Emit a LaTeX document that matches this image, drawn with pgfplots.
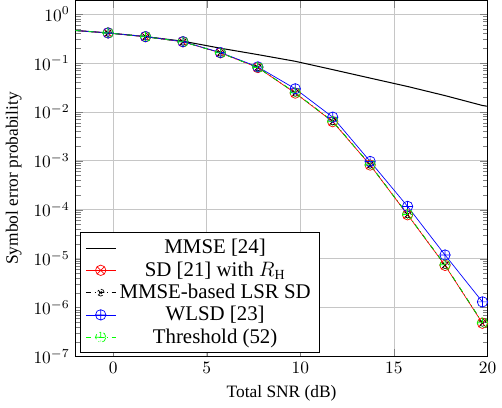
\documentclass[border=0pt]{standalone}
\usepackage{fontspec}
\setmainfont{Liberation Serif}
\usepackage{pgfplots}
\pgfplotsset{compat=1.18}
\begin{document}
\begin{tikzpicture}
\begin{axis}[
  scale only axis,
  width=237pt, height=205pt,
  ymode=log,
  xmin=-2, xmax=20,
  ymin=1e-7, ymax=1.9,
  xtick={0,5,10,15,20},
  ytick={1e-7,1e-6,1e-5,1e-4,1e-3,1e-2,1e-1,1},
  grid=major,
  major grid style={gray!45},
  xlabel={Total SNR (dB)},
  ylabel={Symbol error probability},
  legend cell align=center,
  legend style={at={(0.01,0.01)}, anchor=south west, draw=black, font=\large, row sep=-1pt},
  legend image code/.code={\draw[#1, mark indices={2}] plot coordinates {(0cm,0cm) (0.3cm,0cm) (0.6cm,0cm)};},
]
\addplot[black, semithick] coordinates {
(-2,0.46) (-0.27,0.41) (1.73,0.345) (3.73,0.278) (5.73,0.2) (7.73,0.148) (9.73,0.108) (11.73,0.073) (13.73,0.049) (15.73,0.033) (17.73,0.0215) (19.73,0.0135) (20,0.013)
};
\addlegendentry{MMSE [24]}
\addplot[red, mark=otimes, mark size=3pt, mark indices={2,3,4,5,6,7,8,9,10,11,12}] coordinates {
(-2,0.46) (-0.27,0.41) (1.73,0.343) (3.73,0.27) (5.73,0.161) (7.73,0.0805) (9.73,0.0242) (11.73,0.0063) (13.73,0.00082) (15.73,7.9e-5) (17.73,7.3e-6) (19.73,4.8e-7)
};
\addlegendentry{SD [21] with $R_{\mathrm{H}}$}
\addplot[black, dashdotted, mark=otimes, mark size=2pt, mark indices={2,3,4,5,6,7,8,9,10,11,12}] coordinates {
(-2,0.46) (-0.27,0.41) (1.73,0.343) (3.73,0.27) (5.73,0.161) (7.73,0.081) (9.73,0.0245) (11.73,0.0064) (13.73,0.00083) (15.73,8.0e-5) (17.73,7.4e-6) (19.73,4.9e-7)
};
\addlegendentry{MMSE-based LSR SD}
\addplot[blue, mark=oplus, mark size=3pt, mark indices={2,3,4,5,6,7,8,9,10,11,12}] coordinates {
(-2,0.46) (-0.27,0.41) (1.73,0.345) (3.73,0.272) (5.73,0.163) (7.73,0.083) (9.73,0.0296) (11.73,0.0078) (13.73,0.00097) (15.73,1.17e-4) (17.73,1.19e-5) (19.73,1.31e-6)
};
\addlegendentry{WLSD [23]}
\addplot[green, dashdotted, mark=oplus, mark size=3pt, mark indices={2,3,4,5,6,7,8,9,10,11,12}] coordinates {
(-2,0.46) (-0.27,0.41) (1.73,0.343) (3.73,0.27) (5.73,0.161) (7.73,0.081) (9.73,0.0246) (11.73,0.0064) (13.73,0.00083) (15.73,8.0e-5) (17.73,7.5e-6) (19.73,4.9e-7)
};
\addlegendentry{Threshold (52)}
\end{axis}
\end{tikzpicture}
\end{document}
